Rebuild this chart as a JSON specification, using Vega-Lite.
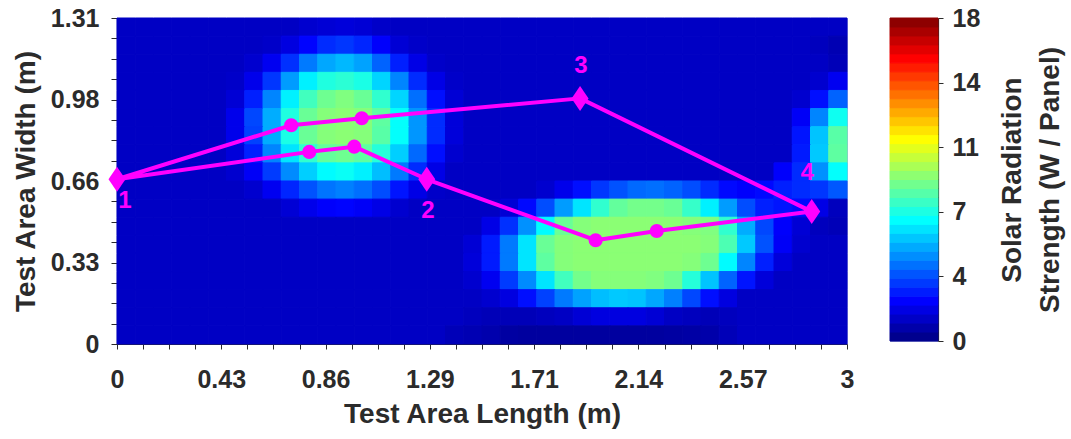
{
  "$schema": "https://vega.github.io/schema/vega-lite/v6.json",
  "background": "white",
  "padding": {"left": 11, "top": 5, "right": 0, "bottom": 0},
  "spacing": 34,
  "config": {
    "font": "Liberation Sans",
    "view": {"stroke": "#a3a8dc"},
    "axis": {
      "grid": false,
      "labelFont": "Liberation Sans", "labelFontSize": 25, "labelFontWeight": "bold", "labelColor": "#2b2b2b",
      "titleFont": "Liberation Sans", "titleFontSize": 28, "titleFontWeight": "bold", "titleColor": "#2b2b2b",
      "domainColor": "#2b2b2b", "domainWidth": 1.2, "tickColor": "#2b2b2b", "labelOverlap": false
    }
  },
  "datasets": {
    "route": [
      {"step": 0, "x": 0, "y": 0.662, "kind": "corner"},
      {"step": 1, "x": 0.716, "y": 0.879, "kind": "stop"},
      {"step": 2, "x": 1.006, "y": 0.907, "kind": "stop"},
      {"step": 3, "x": 1.903, "y": 0.987, "kind": "corner"},
      {"step": 4, "x": 2.855, "y": 0.532, "kind": "corner"},
      {"step": 5, "x": 2.218, "y": 0.454, "kind": "stop"},
      {"step": 6, "x": 1.967, "y": 0.417, "kind": "stop"},
      {"step": 7, "x": 1.273, "y": 0.662, "kind": "corner"},
      {"step": 8, "x": 0.975, "y": 0.793, "kind": "stop"},
      {"step": 9, "x": 0.79, "y": 0.772, "kind": "stop"},
      {"step": 10, "x": 0, "y": 0.662, "kind": "end"}
    ],
    "tags": [
      {"label": "1", "x": 0.033, "y": 0.575},
      {"label": "2", "x": 1.278, "y": 0.534},
      {"label": "3", "x": 1.907, "y": 1.117},
      {"label": "4", "x": 2.836, "y": 0.687}
    ],
    "bar": [
      {"lo": 0, "hi": 0.5, "c": 0.25}, {"lo": 0.5, "hi": 1, "c": 0.75}, {"lo": 1, "hi": 1.5, "c": 1.25}, {"lo": 1.5, "hi": 2, "c": 1.75},
      {"lo": 2, "hi": 2.5, "c": 2.25}, {"lo": 2.5, "hi": 3, "c": 2.75}, {"lo": 3, "hi": 3.5, "c": 3.25}, {"lo": 3.5, "hi": 4, "c": 3.75},
      {"lo": 4, "hi": 4.5, "c": 4.25}, {"lo": 4.5, "hi": 5, "c": 4.75}, {"lo": 5, "hi": 5.5, "c": 5.25}, {"lo": 5.5, "hi": 6, "c": 5.75},
      {"lo": 6, "hi": 6.5, "c": 6.25}, {"lo": 6.5, "hi": 7, "c": 6.75}, {"lo": 7, "hi": 7.5, "c": 7.25}, {"lo": 7.5, "hi": 8, "c": 7.75},
      {"lo": 8, "hi": 8.5, "c": 8.25}, {"lo": 8.5, "hi": 9, "c": 8.75}, {"lo": 9, "hi": 9.5, "c": 9.25}, {"lo": 9.5, "hi": 10, "c": 9.75},
      {"lo": 10, "hi": 10.5, "c": 10.25}, {"lo": 10.5, "hi": 11, "c": 10.75}, {"lo": 11, "hi": 11.5, "c": 11.25}, {"lo": 11.5, "hi": 12, "c": 11.75},
      {"lo": 12, "hi": 12.5, "c": 12.25}, {"lo": 12.5, "hi": 13, "c": 12.75}, {"lo": 13, "hi": 13.5, "c": 13.25}, {"lo": 13.5, "hi": 14, "c": 13.75},
      {"lo": 14, "hi": 14.5, "c": 14.25}, {"lo": 14.5, "hi": 15, "c": 14.75}, {"lo": 15, "hi": 15.5, "c": 15.25}, {"lo": 15.5, "hi": 16, "c": 15.75},
      {"lo": 16, "hi": 16.5, "c": 16.25}, {"lo": 16.5, "hi": 17, "c": 16.75}, {"lo": 17, "hi": 17.5, "c": 17.25}, {"lo": 17.5, "hi": 18, "c": 17.75}
    ],
    "grid": [
      {"i":0,"j":17,"v":1.2},{"i":1,"j":17,"v":1.2},{"i":2,"j":17,"v":1.2},{"i":3,"j":17,"v":1.2},{"i":4,"j":17,"v":1.2},{"i":5,"j":17,"v":1.2},{"i":6,"j":17,"v":1.2},{"i":7,"j":17,"v":1.2},{"i":8,"j":17,"v":1.2},{"i":9,"j":17,"v":1.2},{"i":10,"j":17,"v":1.4},{"i":11,"j":17,"v":1.5},{"i":12,"j":17,"v":1.6},{"i":13,"j":17,"v":1.5},{"i":14,"j":17,"v":1.3},{"i":15,"j":17,"v":1.2},{"i":16,"j":17,"v":1.2},{"i":17,"j":17,"v":1.2},{"i":18,"j":17,"v":1.2},{"i":19,"j":17,"v":1.2},{"i":20,"j":17,"v":1.2},{"i":21,"j":17,"v":1.2},{"i":22,"j":17,"v":1.2},{"i":23,"j":17,"v":1.2},{"i":24,"j":17,"v":1.2},{"i":25,"j":17,"v":1.2},{"i":26,"j":17,"v":1.2},{"i":27,"j":17,"v":1.2},{"i":28,"j":17,"v":1.2},{"i":29,"j":17,"v":1.2},{"i":30,"j":17,"v":1.2},{"i":31,"j":17,"v":1.2},{"i":32,"j":17,"v":1.2},{"i":33,"j":17,"v":1.2},{"i":34,"j":17,"v":1.2},{"i":35,"j":17,"v":1.2},{"i":36,"j":17,"v":1.2},{"i":37,"j":17,"v":1.2},{"i":38,"j":17,"v":1.2},{"i":39,"j":17,"v":1.2},
      {"i":0,"j":16,"v":1.2},{"i":1,"j":16,"v":1.2},{"i":2,"j":16,"v":1.2},{"i":3,"j":16,"v":1.2},{"i":4,"j":16,"v":1.2},{"i":5,"j":16,"v":1.2},{"i":6,"j":16,"v":1.2},{"i":7,"j":16,"v":1.2},{"i":8,"j":16,"v":1.3},{"i":9,"j":16,"v":1.7},{"i":10,"j":16,"v":2.3},{"i":11,"j":16,"v":3.0},{"i":12,"j":16,"v":3.2},{"i":13,"j":16,"v":2.9},{"i":14,"j":16,"v":2.2},{"i":15,"j":16,"v":1.5},{"i":16,"j":16,"v":1.3},{"i":17,"j":16,"v":1.2},{"i":18,"j":16,"v":1.2},{"i":19,"j":16,"v":1.2},{"i":20,"j":16,"v":1.2},{"i":21,"j":16,"v":1.2},{"i":22,"j":16,"v":1.2},{"i":23,"j":16,"v":1.2},{"i":24,"j":16,"v":1.2},{"i":25,"j":16,"v":1.2},{"i":26,"j":16,"v":1.2},{"i":27,"j":16,"v":1.2},{"i":28,"j":16,"v":1.2},{"i":29,"j":16,"v":1.2},{"i":30,"j":16,"v":1.2},{"i":31,"j":16,"v":1.2},{"i":32,"j":16,"v":1.2},{"i":33,"j":16,"v":1.2},{"i":34,"j":16,"v":1.2},{"i":35,"j":16,"v":1.2},{"i":36,"j":16,"v":1.2},{"i":37,"j":16,"v":1.2},{"i":38,"j":16,"v":1.1},{"i":39,"j":16,"v":0.9},
      {"i":0,"j":15,"v":1.2},{"i":1,"j":15,"v":1.2},{"i":2,"j":15,"v":1.2},{"i":3,"j":15,"v":1.2},{"i":4,"j":15,"v":1.2},{"i":5,"j":15,"v":1.2},{"i":6,"j":15,"v":1.2},{"i":7,"j":15,"v":1.4},{"i":8,"j":15,"v":2.0},{"i":9,"j":15,"v":3.1},{"i":10,"j":15,"v":4.4},{"i":11,"j":15,"v":5.2},{"i":12,"j":15,"v":5.5},{"i":13,"j":15,"v":5.1},{"i":14,"j":15,"v":4.0},{"i":15,"j":15,"v":2.8},{"i":16,"j":15,"v":1.8},{"i":17,"j":15,"v":1.3},{"i":18,"j":15,"v":1.2},{"i":19,"j":15,"v":1.2},{"i":20,"j":15,"v":1.2},{"i":21,"j":15,"v":1.2},{"i":22,"j":15,"v":1.2},{"i":23,"j":15,"v":1.2},{"i":24,"j":15,"v":1.2},{"i":25,"j":15,"v":1.2},{"i":26,"j":15,"v":1.2},{"i":27,"j":15,"v":1.2},{"i":28,"j":15,"v":1.2},{"i":29,"j":15,"v":1.2},{"i":30,"j":15,"v":1.2},{"i":31,"j":15,"v":1.2},{"i":32,"j":15,"v":1.2},{"i":33,"j":15,"v":1.2},{"i":34,"j":15,"v":1.2},{"i":35,"j":15,"v":1.2},{"i":36,"j":15,"v":1.2},{"i":37,"j":15,"v":1.2},{"i":38,"j":15,"v":1.2},{"i":39,"j":15,"v":1.0},
      {"i":0,"j":14,"v":1.2},{"i":1,"j":14,"v":1.2},{"i":2,"j":14,"v":1.2},{"i":3,"j":14,"v":1.2},{"i":4,"j":14,"v":1.2},{"i":5,"j":14,"v":1.2},{"i":6,"j":14,"v":1.3},{"i":7,"j":14,"v":1.9},{"i":8,"j":14,"v":3.2},{"i":9,"j":14,"v":5.0},{"i":10,"j":14,"v":6.5},{"i":11,"j":14,"v":7.3},{"i":12,"j":14,"v":7.5},{"i":13,"j":14,"v":7.2},{"i":14,"j":14,"v":6.0},{"i":15,"j":14,"v":4.6},{"i":16,"j":14,"v":3.0},{"i":17,"j":14,"v":1.8},{"i":18,"j":14,"v":1.3},{"i":19,"j":14,"v":1.2},{"i":20,"j":14,"v":1.2},{"i":21,"j":14,"v":1.2},{"i":22,"j":14,"v":1.2},{"i":23,"j":14,"v":1.2},{"i":24,"j":14,"v":1.2},{"i":25,"j":14,"v":1.2},{"i":26,"j":14,"v":1.2},{"i":27,"j":14,"v":1.2},{"i":28,"j":14,"v":1.2},{"i":29,"j":14,"v":1.2},{"i":30,"j":14,"v":1.2},{"i":31,"j":14,"v":1.2},{"i":32,"j":14,"v":1.2},{"i":33,"j":14,"v":1.2},{"i":34,"j":14,"v":1.2},{"i":35,"j":14,"v":1.2},{"i":36,"j":14,"v":1.2},{"i":37,"j":14,"v":1.2},{"i":38,"j":14,"v":1.4},{"i":39,"j":14,"v":2.0},
      {"i":0,"j":13,"v":1.2},{"i":1,"j":13,"v":1.2},{"i":2,"j":13,"v":1.2},{"i":3,"j":13,"v":1.2},{"i":4,"j":13,"v":1.2},{"i":5,"j":13,"v":1.2},{"i":6,"j":13,"v":1.5},{"i":7,"j":13,"v":2.8},{"i":8,"j":13,"v":4.6},{"i":9,"j":13,"v":6.5},{"i":10,"j":13,"v":7.9},{"i":11,"j":13,"v":8.7},{"i":12,"j":13,"v":9.0},{"i":13,"j":13,"v":8.6},{"i":14,"j":13,"v":7.6},{"i":15,"j":13,"v":6.0},{"i":16,"j":13,"v":4.2},{"i":17,"j":13,"v":2.5},{"i":18,"j":13,"v":1.5},{"i":19,"j":13,"v":1.2},{"i":20,"j":13,"v":1.2},{"i":21,"j":13,"v":1.2},{"i":22,"j":13,"v":1.2},{"i":23,"j":13,"v":1.2},{"i":24,"j":13,"v":1.2},{"i":25,"j":13,"v":1.2},{"i":26,"j":13,"v":1.2},{"i":27,"j":13,"v":1.2},{"i":28,"j":13,"v":1.2},{"i":29,"j":13,"v":1.2},{"i":30,"j":13,"v":1.2},{"i":31,"j":13,"v":1.2},{"i":32,"j":13,"v":1.2},{"i":33,"j":13,"v":1.2},{"i":34,"j":13,"v":1.2},{"i":35,"j":13,"v":1.2},{"i":36,"j":13,"v":1.2},{"i":37,"j":13,"v":1.4},{"i":38,"j":13,"v":2.5},{"i":39,"j":13,"v":4.0},
      {"i":0,"j":12,"v":1.2},{"i":1,"j":12,"v":1.2},{"i":2,"j":12,"v":1.2},{"i":3,"j":12,"v":1.2},{"i":4,"j":12,"v":1.2},{"i":5,"j":12,"v":1.2},{"i":6,"j":12,"v":1.9},{"i":7,"j":12,"v":3.5},{"i":8,"j":12,"v":5.3},{"i":9,"j":12,"v":7.3},{"i":10,"j":12,"v":8.6},{"i":11,"j":12,"v":9.1},{"i":12,"j":12,"v":9.2},{"i":13,"j":12,"v":9.1},{"i":14,"j":12,"v":8.4},{"i":15,"j":12,"v":6.8},{"i":16,"j":12,"v":4.9},{"i":17,"j":12,"v":3.0},{"i":18,"j":12,"v":1.6},{"i":19,"j":12,"v":1.2},{"i":20,"j":12,"v":1.2},{"i":21,"j":12,"v":1.2},{"i":22,"j":12,"v":1.2},{"i":23,"j":12,"v":1.2},{"i":24,"j":12,"v":1.2},{"i":25,"j":12,"v":1.2},{"i":26,"j":12,"v":1.2},{"i":27,"j":12,"v":1.2},{"i":28,"j":12,"v":1.2},{"i":29,"j":12,"v":1.2},{"i":30,"j":12,"v":1.2},{"i":31,"j":12,"v":1.2},{"i":32,"j":12,"v":1.2},{"i":33,"j":12,"v":1.2},{"i":34,"j":12,"v":1.2},{"i":35,"j":12,"v":1.2},{"i":36,"j":12,"v":1.2},{"i":37,"j":12,"v":2.1},{"i":38,"j":12,"v":4.6},{"i":39,"j":12,"v":7.0},
      {"i":0,"j":11,"v":1.2},{"i":1,"j":11,"v":1.2},{"i":2,"j":11,"v":1.2},{"i":3,"j":11,"v":1.2},{"i":4,"j":11,"v":1.2},{"i":5,"j":11,"v":1.2},{"i":6,"j":11,"v":1.9},{"i":7,"j":11,"v":3.4},{"i":8,"j":11,"v":5.3},{"i":9,"j":11,"v":7.2},{"i":10,"j":11,"v":8.6},{"i":11,"j":11,"v":9.1},{"i":12,"j":11,"v":9.2},{"i":13,"j":11,"v":9.1},{"i":14,"j":11,"v":8.3},{"i":15,"j":11,"v":6.8},{"i":16,"j":11,"v":4.9},{"i":17,"j":11,"v":3.0},{"i":18,"j":11,"v":1.6},{"i":19,"j":11,"v":1.2},{"i":20,"j":11,"v":1.2},{"i":21,"j":11,"v":1.2},{"i":22,"j":11,"v":1.2},{"i":23,"j":11,"v":1.2},{"i":24,"j":11,"v":1.2},{"i":25,"j":11,"v":1.2},{"i":26,"j":11,"v":1.2},{"i":27,"j":11,"v":1.2},{"i":28,"j":11,"v":1.2},{"i":29,"j":11,"v":1.2},{"i":30,"j":11,"v":1.2},{"i":31,"j":11,"v":1.2},{"i":32,"j":11,"v":1.2},{"i":33,"j":11,"v":1.2},{"i":34,"j":11,"v":1.2},{"i":35,"j":11,"v":1.2},{"i":36,"j":11,"v":1.2},{"i":37,"j":11,"v":2.6},{"i":38,"j":11,"v":5.7},{"i":39,"j":11,"v":8.3},
      {"i":0,"j":10,"v":1.2},{"i":1,"j":10,"v":1.2},{"i":2,"j":10,"v":1.2},{"i":3,"j":10,"v":1.2},{"i":4,"j":10,"v":1.2},{"i":5,"j":10,"v":1.2},{"i":6,"j":10,"v":1.6},{"i":7,"j":10,"v":2.8},{"i":8,"j":10,"v":4.6},{"i":9,"j":10,"v":6.3},{"i":10,"j":10,"v":7.6},{"i":11,"j":10,"v":8.5},{"i":12,"j":10,"v":8.7},{"i":13,"j":10,"v":8.4},{"i":14,"j":10,"v":7.4},{"i":15,"j":10,"v":5.9},{"i":16,"j":10,"v":4.1},{"i":17,"j":10,"v":2.5},{"i":18,"j":10,"v":1.4},{"i":19,"j":10,"v":1.2},{"i":20,"j":10,"v":1.2},{"i":21,"j":10,"v":1.2},{"i":22,"j":10,"v":1.2},{"i":23,"j":10,"v":1.2},{"i":24,"j":10,"v":1.2},{"i":25,"j":10,"v":1.2},{"i":26,"j":10,"v":1.2},{"i":27,"j":10,"v":1.2},{"i":28,"j":10,"v":1.2},{"i":29,"j":10,"v":1.2},{"i":30,"j":10,"v":1.2},{"i":31,"j":10,"v":1.2},{"i":32,"j":10,"v":1.2},{"i":33,"j":10,"v":1.2},{"i":34,"j":10,"v":1.2},{"i":35,"j":10,"v":1.2},{"i":36,"j":10,"v":1.2},{"i":37,"j":10,"v":2.7},{"i":38,"j":10,"v":5.8},{"i":39,"j":10,"v":8.4},
      {"i":0,"j":9,"v":1.2},{"i":1,"j":9,"v":1.2},{"i":2,"j":9,"v":1.2},{"i":3,"j":9,"v":1.2},{"i":4,"j":9,"v":1.2},{"i":5,"j":9,"v":1.2},{"i":6,"j":9,"v":1.4},{"i":7,"j":9,"v":2.1},{"i":8,"j":9,"v":3.3},{"i":9,"j":9,"v":4.7},{"i":10,"j":9,"v":5.9},{"i":11,"j":9,"v":6.7},{"i":12,"j":9,"v":6.9},{"i":13,"j":9,"v":6.5},{"i":14,"j":9,"v":5.6},{"i":15,"j":9,"v":4.4},{"i":16,"j":9,"v":3.0},{"i":17,"j":9,"v":1.8},{"i":18,"j":9,"v":1.2},{"i":19,"j":9,"v":1.2},{"i":20,"j":9,"v":1.2},{"i":21,"j":9,"v":1.2},{"i":22,"j":9,"v":1.2},{"i":23,"j":9,"v":1.2},{"i":24,"j":9,"v":1.2},{"i":25,"j":9,"v":1.2},{"i":26,"j":9,"v":1.2},{"i":27,"j":9,"v":1.2},{"i":28,"j":9,"v":1.2},{"i":29,"j":9,"v":1.2},{"i":30,"j":9,"v":1.2},{"i":31,"j":9,"v":1.2},{"i":32,"j":9,"v":1.2},{"i":33,"j":9,"v":1.2},{"i":34,"j":9,"v":1.2},{"i":35,"j":9,"v":1.2},{"i":36,"j":9,"v":2.2},{"i":37,"j":9,"v":3.0},{"i":38,"j":9,"v":4.8},{"i":39,"j":9,"v":6.8},
      {"i":0,"j":8,"v":1.2},{"i":1,"j":8,"v":1.2},{"i":2,"j":8,"v":1.2},{"i":3,"j":8,"v":1.2},{"i":4,"j":8,"v":1.2},{"i":5,"j":8,"v":1.2},{"i":6,"j":8,"v":1.2},{"i":7,"j":8,"v":1.4},{"i":8,"j":8,"v":2.0},{"i":9,"j":8,"v":2.9},{"i":10,"j":8,"v":3.7},{"i":11,"j":8,"v":4.3},{"i":12,"j":8,"v":4.5},{"i":13,"j":8,"v":4.2},{"i":14,"j":8,"v":3.6},{"i":15,"j":8,"v":2.6},{"i":16,"j":8,"v":1.8},{"i":17,"j":8,"v":1.3},{"i":18,"j":8,"v":1.2},{"i":19,"j":8,"v":1.2},{"i":20,"j":8,"v":1.2},{"i":21,"j":8,"v":1.2},{"i":22,"j":8,"v":1.2},{"i":23,"j":8,"v":1.4},{"i":24,"j":8,"v":1.9},{"i":25,"j":8,"v":2.5},{"i":26,"j":8,"v":3.2},{"i":27,"j":8,"v":3.7},{"i":28,"j":8,"v":4.1},{"i":29,"j":8,"v":4.2},{"i":30,"j":8,"v":4.0},{"i":31,"j":8,"v":3.6},{"i":32,"j":8,"v":3.0},{"i":33,"j":8,"v":2.4},{"i":34,"j":8,"v":2.2},{"i":35,"j":8,"v":2.4},{"i":36,"j":8,"v":2.8},{"i":37,"j":8,"v":3.0},{"i":38,"j":8,"v":3.2},{"i":39,"j":8,"v":3.8},
      {"i":0,"j":7,"v":1.2},{"i":1,"j":7,"v":1.2},{"i":2,"j":7,"v":1.2},{"i":3,"j":7,"v":1.2},{"i":4,"j":7,"v":1.2},{"i":5,"j":7,"v":1.2},{"i":6,"j":7,"v":1.2},{"i":7,"j":7,"v":1.2},{"i":8,"j":7,"v":1.2},{"i":9,"j":7,"v":1.5},{"i":10,"j":7,"v":1.9},{"i":11,"j":7,"v":2.2},{"i":12,"j":7,"v":2.3},{"i":13,"j":7,"v":2.1},{"i":14,"j":7,"v":1.8},{"i":15,"j":7,"v":1.4},{"i":16,"j":7,"v":1.2},{"i":17,"j":7,"v":1.2},{"i":18,"j":7,"v":1.2},{"i":19,"j":7,"v":1.2},{"i":20,"j":7,"v":1.2},{"i":21,"j":7,"v":1.5},{"i":22,"j":7,"v":2.4},{"i":23,"j":7,"v":3.6},{"i":24,"j":7,"v":5.0},{"i":25,"j":7,"v":6.3},{"i":26,"j":7,"v":7.6},{"i":27,"j":7,"v":8.5},{"i":28,"j":7,"v":8.8},{"i":29,"j":7,"v":8.8},{"i":30,"j":7,"v":8.6},{"i":31,"j":7,"v":7.7},{"i":32,"j":7,"v":6.5},{"i":33,"j":7,"v":5.0},{"i":34,"j":7,"v":3.6},{"i":35,"j":7,"v":2.8},{"i":36,"j":7,"v":2.6},{"i":37,"j":7,"v":2.4},{"i":38,"j":7,"v":1.8},{"i":39,"j":7,"v":1.1},
      {"i":0,"j":6,"v":1.2},{"i":1,"j":6,"v":1.2},{"i":2,"j":6,"v":1.2},{"i":3,"j":6,"v":1.2},{"i":4,"j":6,"v":1.2},{"i":5,"j":6,"v":1.2},{"i":6,"j":6,"v":1.2},{"i":7,"j":6,"v":1.2},{"i":8,"j":6,"v":1.2},{"i":9,"j":6,"v":1.2},{"i":10,"j":6,"v":1.2},{"i":11,"j":6,"v":1.2},{"i":12,"j":6,"v":1.2},{"i":13,"j":6,"v":1.2},{"i":14,"j":6,"v":1.2},{"i":15,"j":6,"v":1.2},{"i":16,"j":6,"v":1.2},{"i":17,"j":6,"v":1.2},{"i":18,"j":6,"v":1.2},{"i":19,"j":6,"v":1.2},{"i":20,"j":6,"v":1.8},{"i":21,"j":6,"v":3.1},{"i":22,"j":6,"v":4.8},{"i":23,"j":6,"v":6.7},{"i":24,"j":6,"v":8.6},{"i":25,"j":6,"v":9.1},{"i":26,"j":6,"v":9.2},{"i":27,"j":6,"v":9.2},{"i":28,"j":6,"v":9.2},{"i":29,"j":6,"v":9.2},{"i":30,"j":6,"v":9.2},{"i":31,"j":6,"v":9.1},{"i":32,"j":6,"v":9.0},{"i":33,"j":6,"v":7.6},{"i":34,"j":6,"v":5.3},{"i":35,"j":6,"v":3.5},{"i":36,"j":6,"v":2.2},{"i":37,"j":6,"v":1.5},{"i":38,"j":6,"v":1.1},{"i":39,"j":6,"v":1.0},
      {"i":0,"j":5,"v":1.2},{"i":1,"j":5,"v":1.2},{"i":2,"j":5,"v":1.2},{"i":3,"j":5,"v":1.2},{"i":4,"j":5,"v":1.2},{"i":5,"j":5,"v":1.2},{"i":6,"j":5,"v":1.2},{"i":7,"j":5,"v":1.2},{"i":8,"j":5,"v":1.2},{"i":9,"j":5,"v":1.2},{"i":10,"j":5,"v":1.2},{"i":11,"j":5,"v":1.2},{"i":12,"j":5,"v":1.2},{"i":13,"j":5,"v":1.2},{"i":14,"j":5,"v":1.2},{"i":15,"j":5,"v":1.2},{"i":16,"j":5,"v":1.2},{"i":17,"j":5,"v":1.2},{"i":18,"j":5,"v":1.2},{"i":19,"j":5,"v":1.5},{"i":20,"j":5,"v":2.7},{"i":21,"j":5,"v":4.4},{"i":22,"j":5,"v":6.3},{"i":23,"j":5,"v":8.6},{"i":24,"j":5,"v":9.1},{"i":25,"j":5,"v":9.2},{"i":26,"j":5,"v":9.2},{"i":27,"j":5,"v":9.2},{"i":28,"j":5,"v":9.2},{"i":29,"j":5,"v":9.2},{"i":30,"j":5,"v":9.2},{"i":31,"j":5,"v":9.2},{"i":32,"j":5,"v":9.1},{"i":33,"j":5,"v":8.1},{"i":34,"j":5,"v":5.8},{"i":35,"j":5,"v":3.7},{"i":36,"j":5,"v":2.1},{"i":37,"j":5,"v":1.4},{"i":38,"j":5,"v":1.2},{"i":39,"j":5,"v":1.2},
      {"i":0,"j":4,"v":1.2},{"i":1,"j":4,"v":1.2},{"i":2,"j":4,"v":1.2},{"i":3,"j":4,"v":1.2},{"i":4,"j":4,"v":1.2},{"i":5,"j":4,"v":1.2},{"i":6,"j":4,"v":1.2},{"i":7,"j":4,"v":1.2},{"i":8,"j":4,"v":1.2},{"i":9,"j":4,"v":1.2},{"i":10,"j":4,"v":1.2},{"i":11,"j":4,"v":1.2},{"i":12,"j":4,"v":1.2},{"i":13,"j":4,"v":1.2},{"i":14,"j":4,"v":1.2},{"i":15,"j":4,"v":1.2},{"i":16,"j":4,"v":1.2},{"i":17,"j":4,"v":1.2},{"i":18,"j":4,"v":1.2},{"i":19,"j":4,"v":1.6},{"i":20,"j":4,"v":2.7},{"i":21,"j":4,"v":4.4},{"i":22,"j":4,"v":6.3},{"i":23,"j":4,"v":8.4},{"i":24,"j":4,"v":9.1},{"i":25,"j":4,"v":9.2},{"i":26,"j":4,"v":9.2},{"i":27,"j":4,"v":9.2},{"i":28,"j":4,"v":9.2},{"i":29,"j":4,"v":9.2},{"i":30,"j":4,"v":9.2},{"i":31,"j":4,"v":9.1},{"i":32,"j":4,"v":8.7},{"i":33,"j":4,"v":6.7},{"i":34,"j":4,"v":4.6},{"i":35,"j":4,"v":2.8},{"i":36,"j":4,"v":1.6},{"i":37,"j":4,"v":1.2},{"i":38,"j":4,"v":1.2},{"i":39,"j":4,"v":1.2},
      {"i":0,"j":3,"v":1.2},{"i":1,"j":3,"v":1.2},{"i":2,"j":3,"v":1.2},{"i":3,"j":3,"v":1.2},{"i":4,"j":3,"v":1.2},{"i":5,"j":3,"v":1.2},{"i":6,"j":3,"v":1.2},{"i":7,"j":3,"v":1.2},{"i":8,"j":3,"v":1.2},{"i":9,"j":3,"v":1.2},{"i":10,"j":3,"v":1.2},{"i":11,"j":3,"v":1.2},{"i":12,"j":3,"v":1.2},{"i":13,"j":3,"v":1.2},{"i":14,"j":3,"v":1.2},{"i":15,"j":3,"v":1.2},{"i":16,"j":3,"v":1.2},{"i":17,"j":3,"v":1.2},{"i":18,"j":3,"v":1.2},{"i":19,"j":3,"v":1.4},{"i":20,"j":3,"v":2.0},{"i":21,"j":3,"v":3.3},{"i":22,"j":3,"v":4.7},{"i":23,"j":3,"v":6.3},{"i":24,"j":3,"v":7.9},{"i":25,"j":3,"v":8.8},{"i":26,"j":3,"v":9.1},{"i":27,"j":3,"v":9.1},{"i":28,"j":3,"v":9.1},{"i":29,"j":3,"v":9.0},{"i":30,"j":3,"v":8.7},{"i":31,"j":3,"v":7.4},{"i":32,"j":3,"v":5.7},{"i":33,"j":3,"v":4.0},{"i":34,"j":3,"v":2.6},{"i":35,"j":3,"v":1.6},{"i":36,"j":3,"v":1.2},{"i":37,"j":3,"v":1.2},{"i":38,"j":3,"v":1.2},{"i":39,"j":3,"v":1.2},
      {"i":0,"j":2,"v":1.2},{"i":1,"j":2,"v":1.2},{"i":2,"j":2,"v":1.2},{"i":3,"j":2,"v":1.2},{"i":4,"j":2,"v":1.2},{"i":5,"j":2,"v":1.2},{"i":6,"j":2,"v":1.2},{"i":7,"j":2,"v":1.2},{"i":8,"j":2,"v":1.2},{"i":9,"j":2,"v":1.2},{"i":10,"j":2,"v":1.2},{"i":11,"j":2,"v":1.2},{"i":12,"j":2,"v":1.2},{"i":13,"j":2,"v":1.2},{"i":14,"j":2,"v":1.2},{"i":15,"j":2,"v":1.2},{"i":16,"j":2,"v":1.2},{"i":17,"j":2,"v":1.2},{"i":18,"j":2,"v":1.2},{"i":19,"j":2,"v":1.2},{"i":20,"j":2,"v":1.4},{"i":21,"j":2,"v":1.7},{"i":22,"j":2,"v":2.5},{"i":23,"j":2,"v":3.4},{"i":24,"j":2,"v":4.4},{"i":25,"j":2,"v":5.1},{"i":26,"j":2,"v":5.6},{"i":27,"j":2,"v":5.8},{"i":28,"j":2,"v":5.7},{"i":29,"j":2,"v":5.2},{"i":30,"j":2,"v":4.5},{"i":31,"j":2,"v":3.5},{"i":32,"j":2,"v":2.5},{"i":33,"j":2,"v":1.7},{"i":34,"j":2,"v":1.2},{"i":35,"j":2,"v":1.2},{"i":36,"j":2,"v":1.2},{"i":37,"j":2,"v":1.2},{"i":38,"j":2,"v":1.2},{"i":39,"j":2,"v":1.2},
      {"i":0,"j":1,"v":1.2},{"i":1,"j":1,"v":1.2},{"i":2,"j":1,"v":1.2},{"i":3,"j":1,"v":1.2},{"i":4,"j":1,"v":1.2},{"i":5,"j":1,"v":1.2},{"i":6,"j":1,"v":1.2},{"i":7,"j":1,"v":1.2},{"i":8,"j":1,"v":1.2},{"i":9,"j":1,"v":1.2},{"i":10,"j":1,"v":1.2},{"i":11,"j":1,"v":1.2},{"i":12,"j":1,"v":1.2},{"i":13,"j":1,"v":1.2},{"i":14,"j":1,"v":1.2},{"i":15,"j":1,"v":1.2},{"i":16,"j":1,"v":1.2},{"i":17,"j":1,"v":1.2},{"i":18,"j":1,"v":1.2},{"i":19,"j":1,"v":1.1},{"i":20,"j":1,"v":1.0},{"i":21,"j":1,"v":1.0},{"i":22,"j":1,"v":1.0},{"i":23,"j":1,"v":1.1},{"i":24,"j":1,"v":1.2},{"i":25,"j":1,"v":1.5},{"i":26,"j":1,"v":1.7},{"i":27,"j":1,"v":1.7},{"i":28,"j":1,"v":1.7},{"i":29,"j":1,"v":1.5},{"i":30,"j":1,"v":1.2},{"i":31,"j":1,"v":1.1},{"i":32,"j":1,"v":1.0},{"i":33,"j":1,"v":1.1},{"i":34,"j":1,"v":1.2},{"i":35,"j":1,"v":1.2},{"i":36,"j":1,"v":1.2},{"i":37,"j":1,"v":1.2},{"i":38,"j":1,"v":1.2},{"i":39,"j":1,"v":1.2},
      {"i":0,"j":0,"v":1.2},{"i":1,"j":0,"v":1.2},{"i":2,"j":0,"v":1.2},{"i":3,"j":0,"v":1.2},{"i":4,"j":0,"v":1.2},{"i":5,"j":0,"v":1.2},{"i":6,"j":0,"v":1.2},{"i":7,"j":0,"v":1.2},{"i":8,"j":0,"v":1.2},{"i":9,"j":0,"v":1.2},{"i":10,"j":0,"v":1.2},{"i":11,"j":0,"v":1.2},{"i":12,"j":0,"v":1.2},{"i":13,"j":0,"v":1.2},{"i":14,"j":0,"v":1.2},{"i":15,"j":0,"v":1.2},{"i":16,"j":0,"v":1.2},{"i":17,"j":0,"v":1.2},{"i":18,"j":0,"v":1.0},{"i":19,"j":0,"v":0.9},{"i":20,"j":0,"v":0.8},{"i":21,"j":0,"v":0.6},{"i":22,"j":0,"v":0.55},{"i":23,"j":0,"v":0.55},{"i":24,"j":0,"v":0.55},{"i":25,"j":0,"v":0.55},{"i":26,"j":0,"v":0.55},{"i":27,"j":0,"v":0.55},{"i":28,"j":0,"v":0.55},{"i":29,"j":0,"v":0.55},{"i":30,"j":0,"v":0.6},{"i":31,"j":0,"v":0.65},{"i":32,"j":0,"v":0.75},{"i":33,"j":0,"v":1.0},{"i":34,"j":0,"v":1.2},{"i":35,"j":0,"v":1.2},{"i":36,"j":0,"v":1.2},{"i":37,"j":0,"v":1.2},{"i":38,"j":0,"v":1.2},{"i":39,"j":0,"v":1.2}
    ]
  },
  "hconcat": [
    {
      "width": 730,
      "height": 326,
      "layer": [
        {
          "data": {"name": "grid"},
          "mark": {"type": "rect", "strokeWidth": 1},
          "encoding": {
            "x": {"field": "i", "type": "ordinal", "axis": null, "scale": {"paddingInner": 0, "paddingOuter": 0}},
            "y": {"field": "j", "type": "ordinal", "sort": "descending", "axis": null, "scale": {"paddingInner": 0, "paddingOuter": 0}},
            "color": {
              "field": "v", "type": "quantitative", "legend": null,
              "scale": {"type": "linear", "domain": [0, 2.25, 6.75, 11.25, 15.75, 18], "range": ["#000080", "#0000ff", "#00ffff", "#ffff00", "#ff0000", "#800000"], "interpolate": "rgb"}
            },
            "stroke": {
              "field": "v", "type": "quantitative", "legend": null,
              "scale": {"type": "linear", "domain": [0, 2.25, 6.75, 11.25, 15.75, 18], "range": ["#000080", "#0000ff", "#00ffff", "#ffff00", "#ff0000", "#800000"], "interpolate": "rgb"}
            }
          }
        },
        {
          "encoding": {
            "x": {
              "field": "x", "type": "quantitative",
              "scale": {"domain": [0, 3], "nice": false, "zero": false},
              "axis": {
                "orient": "bottom", "title": "Test Area Length (m)",
                "values": [0, 0.107143, 0.214286, 0.321429, 0.428571, 0.535714, 0.642857, 0.75, 0.857143, 0.964286, 1.071429, 1.178571, 1.285714, 1.392857, 1.5, 1.607143, 1.714286, 1.821429, 1.928571, 2.035714, 2.142857, 2.25, 2.357143, 2.464286, 2.571429, 2.678571, 2.785714, 2.892857, 3],
                "labelExpr": "abs(datum.value*7/3 - round(datum.value*7/3)) < 0.01 ? format(datum.value, '.2~f') : ''",
                "tickSize": 5, "labelPadding": 18, "titlePadding": 8, "labelFlush": false
              }
            },
            "y": {
              "field": "y", "type": "quantitative",
              "scale": {"domain": [0, 1.31], "nice": false, "zero": false},
              "axis": {
                "orient": "left", "title": "Test Area Width (m)",
                "values": [0, 0.081875, 0.16375, 0.245625, 0.3275, 0.409375, 0.49125, 0.573125, 0.655, 0.736875, 0.81875, 0.900625, 0.9825, 1.064375, 1.14625, 1.228125, 1.31],
                "labelExpr": "datum.value < 0.01 ? '0' : abs(datum.value-0.3275) < 0.01 ? '0.33' : abs(datum.value-0.655) < 0.01 ? '0.66' : abs(datum.value-0.9825) < 0.01 ? '0.98' : abs(datum.value-1.31) < 0.01 ? '1.31' : ''",
                "tickSize": 6, "labelPadding": 12, "titlePadding": 10, "labelFlush": false
              }
            }
          },
          "layer": [
            {
              "data": {"name": "route"},
              "mark": {"type": "line", "color": "#ff00ff", "strokeWidth": 4, "strokeJoin": "round"},
              "encoding": {"order": {"field": "step", "type": "quantitative"}}
            },
            {
              "data": {"name": "route"},
              "transform": [{"filter": "datum.kind === 'stop'"}],
              "mark": {"type": "point", "shape": "circle", "filled": true, "color": "#ff00ff", "opacity": 1, "size": 200},
              "encoding": {}
            },
            {
              "data": {"name": "route"},
              "transform": [{"filter": "datum.kind === 'corner'"}],
              "mark": {"type": "point", "shape": "M0,-1.47L1,0L0,1.47L-1,0Z", "filled": true, "color": "#ff00ff", "opacity": 1, "size": 289},
              "encoding": {}
            },
            {
              "data": {"name": "tags"},
              "mark": {"type": "text", "color": "#ff00ff", "font": "Liberation Sans", "fontSize": 24, "fontWeight": "bold"},
              "encoding": {"text": {"field": "label", "type": "nominal"}}
            }
          ]
        }
      ],
      "resolve": {"scale": {"x": "independent", "y": "independent"}}
    },
    {
      "width": 48,
      "height": 323,
      "data": {"name": "bar"},
      "mark": {"type": "rect", "strokeWidth": 1},
      "encoding": {
        "y": {
          "field": "lo", "type": "quantitative",
          "scale": {"domain": [0, 18], "nice": false, "zero": false},
          "axis": {
            "orient": "right",
            "values": [0, 3.6, 7.2, 10.8, 14.4, 18],
            "labelExpr": "format(datum.value, '.0f')",
            "title": ["Solar Radiation", "Strength (W / Panel)"],
            "titleAngle": -90, "titleBaseline": "top", "titleLineHeight": 38,
            "tickSize": 5, "labelPadding": 9, "titlePadding": -19, "labelFlush": false
          }
        },
        "y2": {"field": "hi"},
        "color": {
          "field": "c", "type": "quantitative", "legend": null,
          "scale": {"type": "linear", "domain": [0, 2.25, 6.75, 11.25, 15.75, 18], "range": ["#000080", "#0000ff", "#00ffff", "#ffff00", "#ff0000", "#800000"], "interpolate": "rgb"}
        },
        "stroke": {
          "field": "c", "type": "quantitative", "legend": null,
          "scale": {"type": "linear", "domain": [0, 2.25, 6.75, 11.25, 15.75, 18], "range": ["#000080", "#0000ff", "#00ffff", "#ffff00", "#ff0000", "#800000"], "interpolate": "rgb"}
        }
      }
    }
  ]
}
